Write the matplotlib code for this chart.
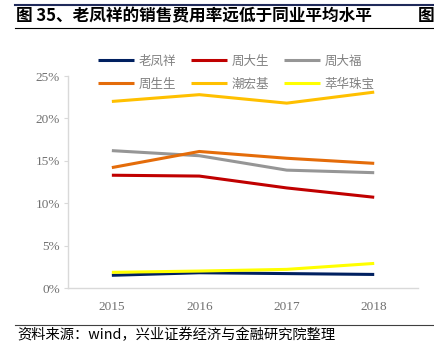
import matplotlib
matplotlib.use('Agg')
import matplotlib.pyplot as plt
from matplotlib.lines import Line2D
from matplotlib.ticker import FuncFormatter

plt.rcParams['font.family'] = ['Noto Sans CJK SC', 'DejaVu Sans']

years = [2015, 2016, 2017, 2018]
names = ['老凤祥', '周大生', '周大福', '周生生', '潮宏基', '萃华珠宝']
laofengxiang = [1.5, 1.8, 1.7, 1.6]
zhoudasheng = [13.3, 13.2, 11.8, 10.7]
zhoudafu = [16.2, 15.6, 13.9, 13.6]
zhoushengsheng = [14.2, 16.1, 15.3, 14.7]
chaohongji = [22.0, 22.8, 21.8, 23.1]
cuihua = [1.85, 2.0, 2.2, 2.9]
colors = ['#002060', '#C00000', '#969696', '#E46C0A', '#FFC000', '#FFFF00']

series = [laofengxiang, zhoudasheng, zhoudafu, zhoushengsheng, chaohongji, cuihua]

fig = plt.figure(figsize=(4.34, 3.54), dpi=100)
ax = fig.add_axes([0.157, 0.1864, 0.806, 0.5989])

lines = []
for vals, c in zip(series, colors):
    ln, = ax.plot(years, vals, color=c, lw=2.2, solid_capstyle='butt')
    lines.append(ln)

ax.set_xlim(2014.5, 2018.5)
ax.set_ylim(0, 25)
ax.set_xticks(years)
ax.set_yticks([0, 5, 10, 15, 20, 25])
ax.yaxis.set_major_formatter(FuncFormatter(lambda v, p: '%d%%' % v))
for s in ['top', 'right']:
    ax.spines[s].set_visible(False)
for s in ['left', 'bottom']:
    ax.spines[s].set_color('#D9D9D9')
    ax.spines[s].set_linewidth(1.0)
ax.tick_params(axis='y', length=3, color='#D9D9D9', labelsize=9.5, labelcolor='#707070', pad=3)
ax.tick_params(axis='x', length=0, labelsize=9.5, labelcolor='#707070', pad=9)
for lab in ax.get_xticklabels() + ax.get_yticklabels():
    lab.set_family('Liberation Serif')

# legend, 2 rows x 3 columns (matplotlib fills by column, so reorder)
order = [0, 3, 1, 4, 2, 5]
leg = fig.legend([lines[i] for i in order], [names[i] for i in order],
                 loc='upper left', bbox_to_anchor=(0.225, 0.846), ncol=3,
                 frameon=False, fontsize=9, handlelength=2.9, handletextpad=0.35,
                 columnspacing=1.2, labelspacing=0.8, borderpad=0, borderaxespad=0)
for t in leg.get_texts():
    t.set_color('#808080')

# header / footer
fig.add_artist(Line2D([0.035, 1.0], [0.986, 0.986], color='#1F2A5A', lw=1.5))
fig.text(0.037, 0.955, '图 35、老凤祥的销售费用率远低于同业平均水平', fontsize=12,
         fontweight='bold', va='center', ha='left')
fig.text(0.963, 0.955, '图', fontsize=12, fontweight='bold', va='center', ha='left')
fig.add_artist(Line2D([0.035, 1.0], [0.921, 0.921], color='black', lw=0.8))
fig.add_artist(Line2D([0.035, 1.0], [0.082, 0.082], color='#404040', lw=0.8))
fig.text(0.04, 0.055, '资料来源：wind，兴业证券经济与金融研究院整理', fontsize=10.3,
         va='center', ha='left')

fig.savefig('out.png', dpi=100)
